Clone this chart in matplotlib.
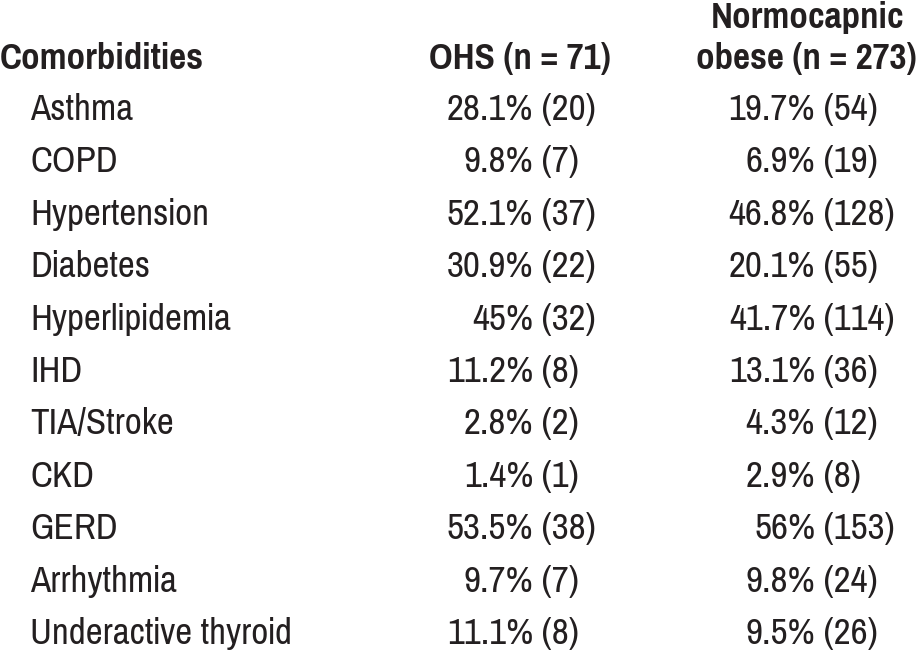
import matplotlib.pyplot as plt
from matplotlib import font_manager

# table content
comorbidities = ["Asthma", "COPD", "Hypertension", "Diabetes", "Hyperlipidemia",
                 "IHD", "TIA/Stroke", "CKD", "GERD", "Arrhythmia", "Underactive thyroid"]
ohs_pct = ["28.1", "9.8", "52.1", "30.9", "45", "11.2", "2.8", "1.4", "53.5", "9.7", "11.1"]
ohs_n = [20, 7, 37, 22, 32, 8, 2, 1, 38, 7, 8]
normo_pct = ["19.7", "6.9", "46.8", "20.1", "41.7", "13.1", "4.3", "2.9", "56", "9.8", "9.5"]
normo_n = [54, 19, 128, 55, 114, 36, 12, 8, 153, 24, 26]
headers = ["Comorbidities", "OHS (n = 71)", "Normocapnic\nobese (n = 273)"]

# narrow sans if there is one, else plain Liberation Sans a bit smaller
names = {f.name for f in font_manager.fontManager.ttflist}
if "Pragati Narrow" in names:
    plt.rcParams['font.family'] = ["Pragati Narrow", "Liberation Sans", "DejaVu Sans"]
    fs = 29
else:
    plt.rcParams['font.family'] = ["Liberation Sans", "DejaVu Sans"]
    fs = 22

fig = plt.figure(figsize=(9.19, 6.53), dpi=100)
ax = fig.add_axes([0, 0, 1, 1])
ax.set_xlim(0, 919)
ax.set_ylim(653, 0)
ax.axis('off')

col = '#231f20'

# header
ax.text(0, 69, headers[0], fontsize=fs, fontweight='bold', color=col, va='baseline', ha='left')
ax.text(520, 69, headers[1], fontsize=fs, fontweight='bold', color=col, va='baseline', ha='center')
top, bottom = headers[2].split("\n")
ax.text(808, 28, top, fontsize=fs, fontweight='bold', color=col, va='baseline', ha='center')
ax.text(806, 69, bottom, fontsize=fs, fontweight='bold', color=col, va='baseline', ha='center')

# rows
y0, dy = 120, 52.4
for i, name in enumerate(comorbidities):
    y = y0 + dy * i
    ax.text(30, y, name, fontsize=fs, color=col, va='baseline', ha='left')
    ax.text(533, y, ohs_pct[i] + "%", fontsize=fs, color=col, va='baseline', ha='right')
    ax.text(533, y, " (%d)" % ohs_n[i], fontsize=fs, color=col, va='baseline', ha='left')
    ax.text(815, y, normo_pct[i] + "%", fontsize=fs, color=col, va='baseline', ha='right')
    ax.text(815, y, " (%d)" % normo_n[i], fontsize=fs, color=col, va='baseline', ha='left')

fig.savefig("out.png", dpi=100)
